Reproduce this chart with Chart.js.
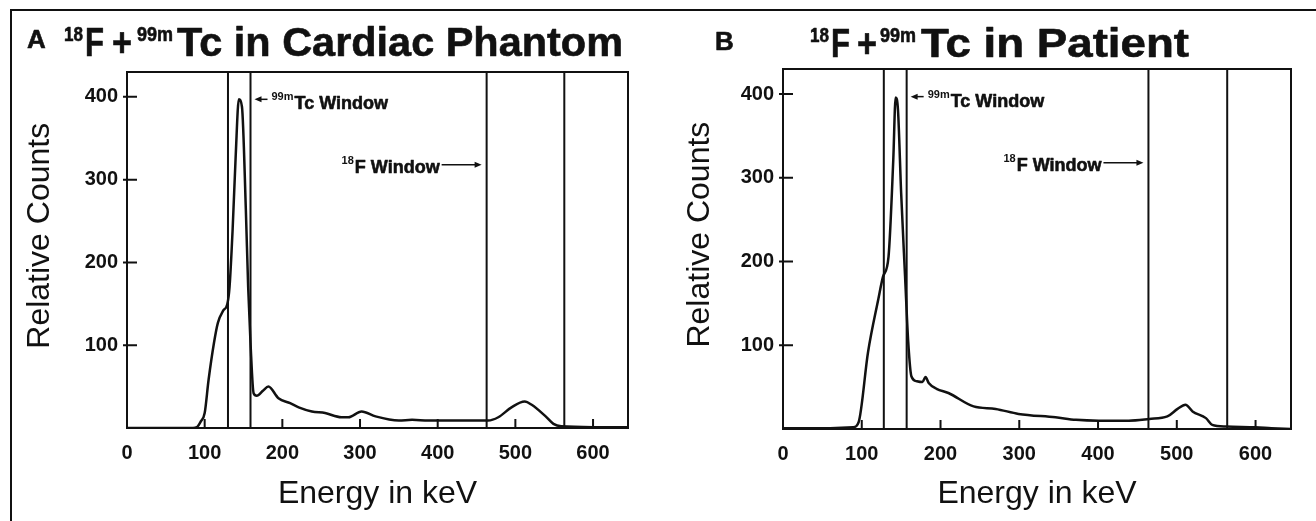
<!DOCTYPE html>
<html>
<head>
<meta charset="utf-8">
<title>18F + 99mTc energy spectra</title>
<script src="https://cdn.jsdelivr.net/npm/chart.js@4.4.0/dist/chart.umd.min.js"></script>
<style>
    html, body { margin: 0; padding: 0; background: #fff; }
    #figure { position: relative; width: 1316px; height: 521px; overflow: hidden; }
    #frame { position: absolute; left: 10px; top: 9px; right: -5px; bottom: -5px; border-top: 2px solid #111; border-left: 2px solid #111; }
    canvas { position: absolute; top: 0; }
    #phantomChart { left: 0; }
    #patientChart { left: 658px; }
</style>
</head>
<body>
<div id="figure">
    <div id="frame"></div>
    <canvas id="phantomChart" width="658" height="521"></canvas>
    <canvas id="patientChart" width="658" height="521"></canvas>
</div>
<script>
// axis ticks
const energyTicks = [0, 100, 200, 300, 400, 500, 600];
const energyTickMarks = [100, 200, 300, 400, 500, 600];
const countTicks = [100, 200, 300, 400];

// A - cardiac phantom spectrum (keV / relative counts)
const phantomEnergy = [0, 85, 90, 95, 100, 105, 112, 117, 124, 129, 132, 136, 140, 144, 148, 153, 156, 159, 163, 167, 175, 182, 195, 210, 221, 238, 255, 276, 285, 302, 320, 350, 367, 388, 427, 465, 478, 495, 512, 521, 539, 549, 559, 600, 645];
const phantomCounts = [0, 0, 1, 8, 18, 58, 103, 127, 142, 149, 170, 240, 330, 397, 388, 264, 170, 103, 42, 39, 45, 50, 36, 30, 25, 20, 18, 13, 13, 20, 14, 9, 10, 9, 9, 9, 13, 25, 32, 28, 14, 5, 2, 1, 1];
const phantomWindows = [130, 159, 463, 563];

// B - patient spectrum
const patientEnergy = [0, 60, 89, 96, 108, 121, 127, 134, 140, 143, 146, 150, 155, 159, 163, 170, 177, 181, 185, 195, 210, 242, 270, 299, 346, 372, 401, 439, 465, 488, 501, 511, 520, 537, 545, 563, 600, 620, 645];
const patientCounts = [1, 1, 2, 8, 92, 155, 182, 206, 321, 396, 381, 282, 182, 104, 63, 57, 56, 62, 55, 48, 43, 27, 24, 18, 14, 11, 10, 10, 12, 15, 24, 29, 21, 13, 5, 3, 2, 1, 0];
const patientWindows = [128, 157, 464, 564];

// where the window labels sit, in counts
const tcLabelCounts = 397;
const fLabelCounts = 318;

const ENERGY_MAX = 645;
const COUNT_MAX = 430;
const FONT = "'Liberation Sans', Arial, Helvetica, sans-serif";
const INK = '#111';

Chart.defaults.font.family = FONT;
Chart.defaults.color = INK;

function toPoints(xs, ys) {
    return xs.map((x, i) => ({ x: x, y: ys[i] }));
}

function windowLines(windows) {
    const points = [];
    windows.forEach(function (w) {
        points.push({ x: w, y: 0 }, { x: w, y: COUNT_MAX }, { x: w, y: null });
    });
    return points;
}

function drawArrow(ctx, fromX, toX, y) {
    const dir = Math.sign(toX - fromX);
    ctx.lineWidth = 1.5;
    ctx.beginPath();
    ctx.moveTo(fromX, y);
    ctx.lineTo(toX - dir * 5, y);
    ctx.stroke();
    ctx.beginPath();
    ctx.moveTo(toX, y);
    ctx.lineTo(toX - dir * 7, y - 3);
    ctx.lineTo(toX - dir * 7, y + 3);
    ctx.closePath();
    ctx.fill();
}

// bold text with a hairline stroke, optionally fitted to a width
function heavyText(ctx, text, x, y, font, width) {
    ctx.save();
    ctx.font = font;
    ctx.translate(x, y);
    if (width) {
        ctx.scale(width / ctx.measureText(text).width, 1);
    }
    ctx.lineWidth = 0.6;
    ctx.lineJoin = 'round';
    ctx.fillText(text, 0, 0);
    ctx.strokeText(text, 0, 0);
    ctx.restore();
}

function drawTitle(ctx, t) {
    const main = 'bold 40px ' + FONT;
    const sup = 'bold 21px ' + FONT;
    ctx.textAlign = 'left';
    ctx.textBaseline = 'alphabetic';
    heavyText(ctx, t.letter, t.letterX, t.letterBase, 'bold 26px ' + FONT);
    t.parts.forEach(function (p) {
        const isSup = p[1];
        heavyText(ctx, p[0], p[2], isSup ? t.baseline - 15 : t.baseline, isSup ? sup : main, p[3]);
    });
}

function makeDecor(cfg) {
    return {
        id: 'panelDecor',
        afterDraw: function (chart) {
            const ctx = chart.ctx;
            const area = chart.chartArea;
            const xs = chart.scales.x;
            const ys = chart.scales.y;
            ctx.save();
            ctx.strokeStyle = INK;
            ctx.fillStyle = INK;

            // plot box and inward ticks
            ctx.lineWidth = 2;
            ctx.strokeRect(area.left, area.top, area.right - area.left, area.bottom - area.top);
            ctx.beginPath();
            countTicks.forEach(function (v) {
                const y = ys.getPixelForValue(v);
                ctx.moveTo(area.left - 4, y);
                ctx.lineTo(area.left + 10, y);
            });
            energyTickMarks.forEach(function (v) {
                const x = xs.getPixelForValue(v);
                ctx.moveTo(x, area.bottom);
                ctx.lineTo(x, area.bottom - 9);
            });
            ctx.stroke();

            // y title, sits a little above the axis middle
            ctx.save();
            ctx.translate(cfg.yTitleX, area.top + (area.bottom - area.top) * 0.46);
            ctx.rotate(-Math.PI / 2);
            ctx.font = '32px ' + FONT;
            ctx.textAlign = 'center';
            ctx.textBaseline = 'middle';
            ctx.fillText('Relative Counts', 0, 0);
            ctx.restore();

            // 99mTc window label
            const tcLine = xs.getPixelForValue(cfg.windows[1]);
            const tcY = ys.getPixelForValue(tcLabelCounts);
            drawArrow(ctx, tcLine + 17, tcLine + 4, tcY);
            ctx.textAlign = 'left';
            ctx.textBaseline = 'alphabetic';
            ctx.font = 'bold 11px ' + FONT;
            ctx.fillText('99m', tcLine + 21, tcY + 1);
            const supW = ctx.measureText('99m').width;
            heavyText(ctx, 'Tc Window', tcLine + 22 + supW, tcY + 10, 'bold 18px ' + FONT);

            // 18F window label
            const fLine = xs.getPixelForValue(cfg.windows[2]);
            const fY = ys.getPixelForValue(fLabelCounts);
            const tip = fLine - 5;
            drawArrow(ctx, tip - 40, tip, fY);
            ctx.font = 'bold 18px ' + FONT;
            const fW = ctx.measureText('F Window').width;
            heavyText(ctx, 'F Window', tip - 42 - fW, fY + 8, 'bold 18px ' + FONT);
            ctx.font = 'bold 11px ' + FONT;
            ctx.textAlign = 'right';
            ctx.fillText('18', tip - 43 - fW, fY - 1);
            ctx.textAlign = 'left';

            drawTitle(ctx, cfg.title);
            ctx.restore();
        }
    };
}

function buildChart(canvasId, cfg) {
    const ctx = document.getElementById(canvasId).getContext('2d');
    return new Chart(ctx, {
        type: 'line',
        data: {
            datasets: [
                {
                    data: toPoints(cfg.energy, cfg.counts),
                    borderColor: INK,
                    borderWidth: 2.5,
                    pointRadius: 0,
                    cubicInterpolationMode: 'monotone',
                    fill: false
                },
                {
                    data: windowLines(cfg.windows),
                    borderColor: INK,
                    borderWidth: 2,
                    pointRadius: 0,
                    tension: 0,
                    spanGaps: false,
                    fill: false
                }
            ]
        },
        options: {
            responsive: false,
            animation: false,
            events: [],
            layout: {
                padding: { left: 0, right: cfg.padRight, top: cfg.padTop, bottom: 0 }
            },
            scales: {
                x: {
                    type: 'linear',
                    min: 0,
                    max: ENERGY_MAX,
                    afterFit: function (scale) { scale.height = cfg.xAxisHeight; },
                    afterBuildTicks: function (scale) {
                        scale.ticks = energyTicks.map(v => ({ value: v }));
                    },
                    grid: { display: false, drawTicks: false },
                    border: { display: false },
                    ticks: {
                        color: INK,
                        font: { size: 20, weight: 'bold' },
                        padding: 13,
                        maxRotation: 0,
                        autoSkip: false
                    },
                    title: {
                        display: true,
                        text: 'Energy in keV',
                        color: INK,
                        font: { size: 32 },
                        padding: { top: 0, bottom: 8 }
                    }
                },
                y: {
                    type: 'linear',
                    min: 0,
                    max: COUNT_MAX,
                    afterFit: function (scale) { scale.width = cfg.yAxisWidth; },
                    afterBuildTicks: function (scale) {
                        scale.ticks = countTicks.map(v => ({ value: v }));
                    },
                    grid: { display: false, drawTicks: false },
                    border: { display: false },
                    ticks: {
                        color: INK,
                        font: { size: 20, weight: 'bold' },
                        padding: 9
                    }
                }
            },
            plugins: {
                legend: { display: false },
                tooltip: { enabled: false },
                title: { display: false }
            }
        },
        plugins: [makeDecor(cfg)]
    });
}

buildChart('phantomChart', {
    energy: phantomEnergy,
    counts: phantomCounts,
    windows: phantomWindows,
    padTop: 72,
    padRight: 30,
    yAxisWidth: 127,
    xAxisHeight: 93,
    yTitleX: 40,
    title: {
        letter: 'A', letterX: 27, letterBase: 48, baseline: 56,
        // text, superscript, left x, fitted width (none = natural)
        parts: [['18', true, 64, 19], ['F', false, 85, 19], ['+', false, 112, 20],
                ['99m', true, 137, 36], ['Tc in Cardiac Phantom', false, 177, 446]]
    }
});

buildChart('patientChart', {
    energy: patientEnergy,
    counts: patientCounts,
    windows: patientWindows,
    padTop: 69,
    padRight: 25,
    yAxisWidth: 125,
    xAxisHeight: 92,
    yTitleX: 42,
    title: {
        letter: 'B', letterX: 57, letterBase: 50, baseline: 57,
        parts: [['18', true, 152, 19], ['F', false, 173, 19], ['+', false, 199, 20],
                ['99m', true, 222, 36], ['Tc in Patient', false, 263, 268]]
    }
});
</script>
</body>
</html>
